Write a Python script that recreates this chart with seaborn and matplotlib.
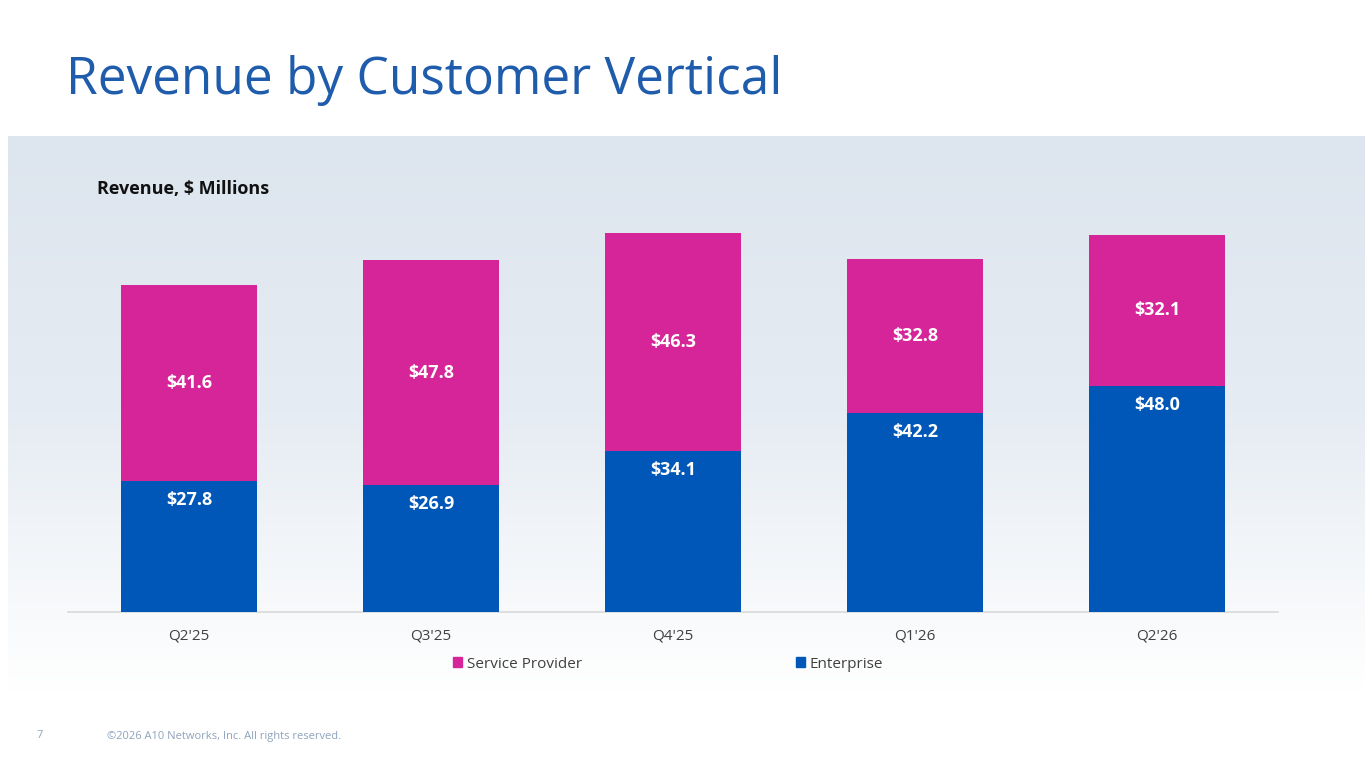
import numpy as np
import pandas as pd
import matplotlib
matplotlib.use("Agg")
import matplotlib.pyplot as plt
import seaborn as sns
from matplotlib.colors import LinearSegmentedColormap
from matplotlib.patches import Patch

# ---------- data ----------
quarters = ["Q2'25", "Q3'25", "Q4'25", "Q1'26", "Q2'26"]
enterprise = [27.8, 26.9, 34.1, 42.2, 48.0]
service_provider = [41.6, 47.8, 46.3, 32.8, 32.1]

SP_COLOR = "#D62598"
ENT_COLOR = "#0057B8"
TITLE_COLOR = "#1F5CAB"

sns.set_theme(style="white")
plt.rcParams['font.family'] = ['Open Sans', 'DejaVu Sans']

df = pd.DataFrame({"quarter": quarters,
                   "Enterprise": enterprise,
                   "Service Provider": service_provider})
df["total"] = df["Enterprise"] + df["Service Provider"]

fig = plt.figure(figsize=(13.65, 7.68), dpi=100)
fig.patch.set_facecolor("white")

# ---------- gradient panel ----------
bg = fig.add_axes([8/1365, (768-692)/768, 1357/1365, (692-136)/768])
grad = np.linspace(0, 1, 256).reshape(-1, 1)
bg_cmap = LinearSegmentedColormap.from_list("panel", ["#dde5ee", "#e6ecf3", "#ffffff"])
bg.imshow(grad, aspect="auto", cmap=bg_cmap, extent=[0, 1, 0, 1])
bg.set_axis_off()
bg.set_zorder(0)

# ---------- bars ----------
ax = fig.add_axes([68/1365, (768-612)/768, 1210/1365, 412/768])
ax.set_zorder(1)
ax.patch.set_alpha(0)
sns.barplot(data=df, x="quarter", y="total", color=SP_COLOR, width=0.56,
            saturation=1, linewidth=0, ax=ax, zorder=2)
sns.barplot(data=df, x="quarter", y="Enterprise", color=ENT_COLOR, width=0.56,
            saturation=1, linewidth=0, ax=ax, zorder=3)
ax.set_xlim(-0.5, len(quarters) - 0.5)
ax.set_ylim(0, 87.5)

for i, (e, s) in enumerate(zip(enterprise, service_provider)):
    ax.text(i, e - 4.0, f"${e:.1f}", ha="center", va="center",
            color="white", fontsize=13, fontweight="bold", zorder=5)
    ax.text(i, e + s / 2, f"${s:.1f}", ha="center", va="center",
            color="white", fontsize=13, fontweight="bold", zorder=5)

ax.set_xlabel("")
ax.set_ylabel("")
ax.set_yticks([])
ax.tick_params(axis="x", length=0, pad=12, labelsize=11, colors="#404040")
for sp in ["top", "right", "left"]:
    ax.spines[sp].set_visible(False)
ax.spines["bottom"].set_color("#d9d9d9")
ax.spines["bottom"].set_linewidth(1.2)

handles = [Patch(color=SP_COLOR, label="Service Provider"),
           Patch(color=ENT_COLOR, label="Enterprise")]
fig.legend(handles=handles, loc="center", bbox_to_anchor=(668/1365, 1 - 664/768),
           ncol=2, frameon=False, fontsize=11, handlelength=0.6, handleheight=0.6,
           handletextpad=0.3, columnspacing=14, labelcolor="#404040")

# ---------- texts ----------
fig.text(66/1365, 1 - 80/768, "Revenue by Customer Vertical", fontsize=37,
         color=TITLE_COLOR, va="center", ha="left")
fig.text(97/1365, 1 - 189/768, "Revenue, $ Millions", fontsize=13,
         fontweight="bold", color="#111111", va="center", ha="left")
fig.text(37/1365, 1 - 736/768, "7", fontsize=8, color="#8fa3bd", va="center")
fig.text(107/1365, 1 - 736/768, "\u00a92026 A10 Networks, Inc. All rights reserved.",
         fontsize=8, color="#8fa3bd", va="center")

fig.savefig("out.png", dpi=100)
